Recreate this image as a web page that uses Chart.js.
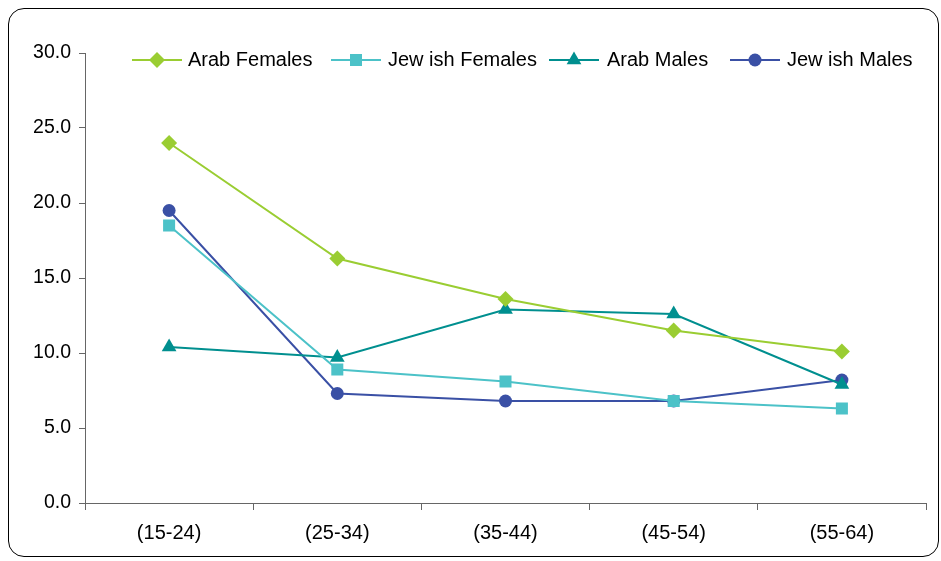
<!DOCTYPE html>
<html>
<head>
<meta charset="utf-8">
<script src="https://cdn.jsdelivr.net/npm/chart.js@4"></script>
<style>
  html, body { margin: 0; padding: 0; background: #fff; }
  #wrap { position: relative; width: 941px; height: 561px; }
  #frame { position: absolute; left: 8px; top: 8px; width: 929px; height: 547px;
           border: 1px solid #000; border-radius: 16px; pointer-events: none; }
</style>
</head>
<body>
<div id="wrap">
  <canvas id="chart" width="941" height="561"></canvas>
  <div id="frame"></div>
</div>

<script>
    // data
    const ageGroups = ['(15-24)', '(25-34)', '(35-44)', '(45-54)', '(55-64)'];
    const arabFemales   = [24.0, 16.3, 13.6, 11.5, 10.1];
    const jewishFemales = [18.5, 8.9, 8.1, 6.8, 6.3];
    const arabMales     = [10.4, 9.7, 12.9, 12.6, 7.9];
    const jewishMales   = [19.5, 7.3, 6.8, 6.8, 8.2];
    const yTicks = [0, 5, 10, 15, 20, 25, 30];

    const FONT = 'Arial, "Liberation Sans", sans-serif';

    function series(label, data, color, style, radius) {
        return {
            label: label,
            data: data,
            borderColor: color,
            backgroundColor: color,
            borderWidth: 2,
            pointStyle: style,
            pointRadius: radius,
            pointHoverRadius: radius,
            pointBorderWidth: 0,
            tension: 0
        };
    }

    // legend drawn inside the plot, line + marker like the original
    const insideLegend = {
        id: 'insideLegend',
        afterDraw(chart) {
            const ctx = chart.ctx;
            const y = 60;
            const items = [
                { x: 132, ds: 0, textX: 188 },
                { x: 331, ds: 1, textX: 388 },
                { x: 549, ds: 2, textX: 607 },
                { x: 730, ds: 3, textX: 787 }
            ];
            ctx.save();
            items.forEach(it => {
                const ds = chart.data.datasets[it.ds];
                ctx.strokeStyle = ds.borderColor;
                ctx.lineWidth = 2;
                ctx.beginPath();
                ctx.moveTo(it.x, y);
                ctx.lineTo(it.x + 50, y);
                ctx.stroke();
                ctx.fillStyle = ds.backgroundColor;
                Chart.helpers.drawPoint(ctx, {
                    pointStyle: ds.pointStyle,
                    radius: ds.pointRadius,
                    borderWidth: 0,
                    rotation: 0
                }, it.x + 25, y);
                ctx.fillStyle = '#000';
                ctx.font = '20px ' + FONT;
                ctx.textBaseline = 'middle';
                ctx.textAlign = 'left';
                ctx.fillText(ds.label, it.textX, y);
            });
            ctx.restore();
        }
    };

    new Chart(document.getElementById('chart').getContext('2d'), {
        type: 'line',
        data: {
            labels: ageGroups,
            datasets: [
                series('Arab Females', arabFemales, '#9ACD32', 'rectRot', 8),
                series('Jew ish Females', jewishFemales, '#4CC2C8', 'rect', 8.5),
                series('Arab Males', arabMales, '#008F8F', 'triangle', 8.5),
                series('Jew ish Males', jewishMales, '#3A50A5', 'circle', 6.5)
            ]
        },
        options: {
            responsive: false,
            animation: false,
            layout: { padding: { top: 53, right: 15, left: 0, bottom: 0 } },
            plugins: {
                legend: { display: false },
                tooltip: { enabled: false }
            },
            scales: {
                x: {
                    offset: true,
                    grid: { offset: true, drawOnChartArea: false, tickLength: 7, color: '#666' },
                    border: { color: '#666', width: 1 },
                    ticks: { color: '#000', font: { family: FONT, size: 20 }, padding: 11, maxRotation: 0 },
                    afterFit(scale) { scale.height = 58; }
                },
                y: {
                    min: 0,
                    max: 30,
                    afterBuildTicks(scale) { scale.ticks = yTicks.map(v => ({ value: v })); },
                    grid: { drawOnChartArea: false, tickLength: 6, color: '#666' },
                    border: { color: '#666', width: 1 },
                    ticks: {
                        color: '#000',
                        font: { family: FONT, size: 19.5 },
                        padding: 8,
                        callback: v => Number(v).toFixed(1)
                    },
                    afterFit(scale) { scale.width = 85; }
                }
            }
        },
        plugins: [insideLegend]
    });
</script>
</body>
</html>
